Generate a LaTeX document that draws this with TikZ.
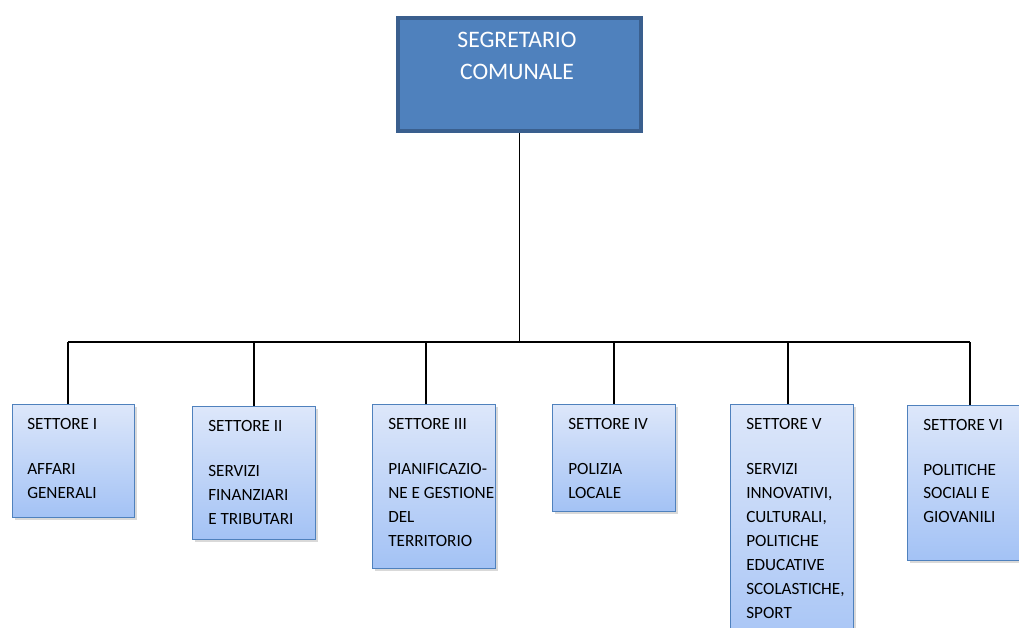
\documentclass[tikz,border=0pt]{standalone}
\usepackage{fontspec}
\setmainfont{Carlito}
\usepackage{tikz}
\usetikzlibrary{positioning, shadows, calc}
\definecolor{capoblue}{HTML}{4F81BD}
\definecolor{capoedge}{HTML}{3A5F8E}
\definecolor{settoretop}{HTML}{DDE7FA}
\definecolor{settorebot}{HTML}{A3C2F5}

\begin{document}
\begin{tikzpicture}[x=0.025cm, y=-0.025cm,
        capo/.style={draw=capoedge, line width=2.8pt, fill=capoblue, anchor=north west,
                minimum width=6.075cm, minimum height=2.825cm, inner sep=0pt},
        settore/.style={draw=capoblue, line width=0.8pt, top color=settoretop, bottom color=settorebot,
                anchor=north west, inner sep=0pt,
                drop shadow={opacity=0.3, shadow xshift=0.05cm, shadow yshift=-0.07cm}},
        voce/.style={anchor=north west, inner sep=0pt, align=left, font=\fontsize{12.2}{17}\selectfont},
        link/.style={line width=0.9pt}]
        \clip (0,0) rectangle (1019,627);
        % segretario
        \node[capo] (capo) at (396,16) {};
        \node[anchor=north, inner sep=0pt, align=center, text=white,
              font=\fontsize{16.8}{22.7}\selectfont] (capotxt) at (517,32) {SEGRETARIO\\COMUNALE};
        % settori
        \node[settore, minimum width=3.05cm, minimum height=2.825cm] (s1) at (12,404) {};
        \node[settore, minimum width=3.075cm, minimum height=3.325cm] (s2) at (192,406) {};
        \node[settore, minimum width=3.075cm, minimum height=4.1cm] (s3) at (372,404) {};
        \node[settore, minimum width=3.075cm, minimum height=2.675cm] (s4) at (552,404) {};
        \node[settore, minimum width=3.075cm, minimum height=6.5cm] (s5) at (730,404) {};
        \node[settore, minimum width=3.15cm, minimum height=3.875cm] (s6) at (907,405) {};
        \node[voce, below right=0.36cm and 0.375cm of s1.north west] (t1)
              {SETTORE I\\[15pt]AFFARI\\GENERALI};
        \node[voce, below right=0.36cm and 0.4cm of s2.north west] (t2)
              {SETTORE II\\[15pt]SERVIZI\\FINANZIARI\\E TRIBUTARI};
        \node[voce, below right=0.36cm and 0.4cm of s3.north west] (t3)
              {SETTORE III\\[15pt]PIANIFICAZIO-\\NE E GESTIONE\\DEL\\TERRITORIO};
        \node[voce, below right=0.36cm and 0.4cm of s4.north west] (t4)
              {SETTORE IV\\[15pt]POLIZIA\\LOCALE};
        \node[voce, below right=0.36cm and 0.4cm of s5.north west] (t5)
              {SETTORE V\\[15pt]SERVIZI\\INNOVATIVI,\\CULTURALI,\\POLITICHE\\EDUCATIVE\\SCOLASTICHE,\\SPORT};
        \node[voce, below right=0.34cm and 0.4cm of s6.north west] (t6)
              {SETTORE VI\\[15pt]POLITICHE\\SOCIALI E\\GIOVANILI};
        % linee
        \coordinate (bar1) at (68,342);
        \coordinate (bar2) at (254,342);
        \coordinate (bar3) at (426,342);
        \coordinate (bar4) at (614,342);
        \coordinate (bar5) at (788,342);
        \coordinate (bar6) at (970,342);
        \draw[link] (capo.south) -- (capo.south |- bar1);
        \draw[link] (bar1) -- (bar6);
        \draw[link] (bar1) -- (bar1 |- s1.north);
        \draw[link] (bar2) -- (bar2 |- s2.north);
        \draw[link] (bar3) -- (bar3 |- s3.north);
        \draw[link] (bar4) -- (bar4 |- s4.north);
        \draw[link] (bar5) -- (bar5 |- s5.north);
        \draw[link] (bar6) -- (bar6 |- s6.north);
\end{tikzpicture}
\end{document}
